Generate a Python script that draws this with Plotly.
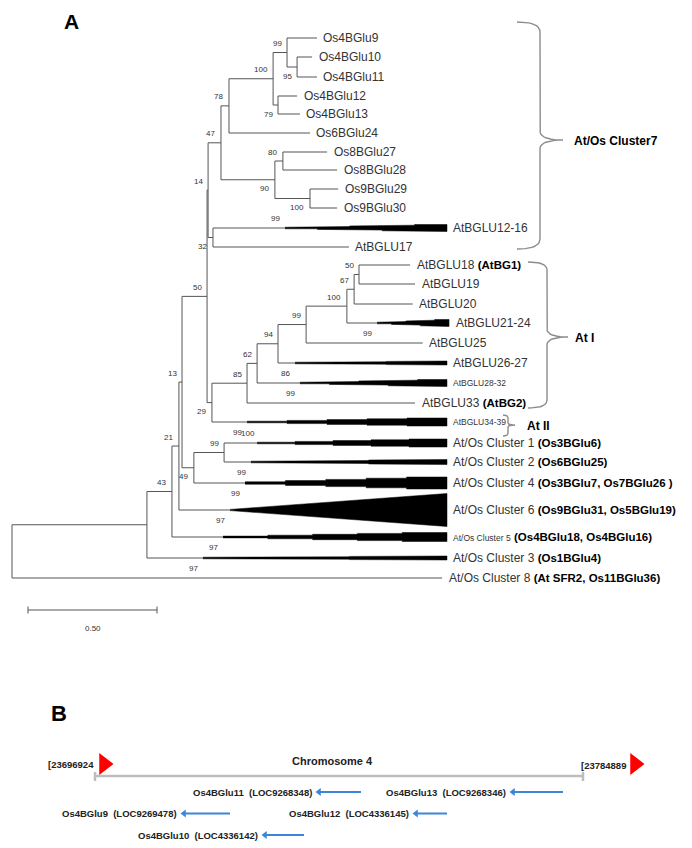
import plotly.graph_objects as go

# ======================= DATA =======================
# ---- Panel A: phylogenetic tree (depth = distance from root) ----
node_names = ["root", "nA", "n43", "n21", "n13", "n50", "n14", "n47", "n78",
              "n100", "n99", "n95", "n79", "n90", "n80", "n100b", "n32",
              "n29", "n85", "n62", "n94", "n99a", "n100a", "n67", "n50a",
              "n49", "n99c"]
node_parent = [None, "root", "nA", "n43", "n21", "n13", "n50", "n14", "n47",
               "n78", "n100", "n99", "n100", "n47", "n90", "n90", "n14",
               "n50", "n29", "n85", "n62", "n94", "n99a", "n100a", "n67",
               "n13", "n49"]
node_depth = [0.000, 0.523, 0.620, 0.647, 0.659, 0.756, 0.760, 0.810, 0.841,
              1.012, 1.066, 1.105, 1.031, 1.019, 1.050, 1.155, 0.779,
              0.775, 0.911, 0.950, 1.031, 1.140, 1.298, 1.326, 1.345,
              0.705, 0.822]
node_bootstrap = [None, None, 43, 21, 13, 50, 14, 47, 78,
                  100, 99, 95, 79, 90, 80, 100, 32,
                  29, 85, 62, 94, 99, 100, 67, 50,
                  49, 99]
node_boot_side = ["", "", "up", "up", "up", "up", "up", "up", "up",
                  "up", "up", "down", "down", "down", "up", "down", "down",
                  "down", "up", "up", "up", "up", "up", "up", "up",
                  "down", "up"]

leaf_names = ["Os4BGlu9", "Os4BGlu10", "Os4BGlu11", "Os4BGlu12", "Os4BGlu13",
              "Os6BGlu24", "Os8BGlu27", "Os8BGlu28", "Os9BGlu29", "Os9BGlu30",
              "AtBGLU12-16", "AtBGLU17", "AtBGLU18", "AtBGLU19", "AtBGLU20",
              "AtBGLU21-24", "AtBGLU25", "AtBGLU26-27", "AtBGLU28-32", "AtBGLU33",
              "AtBGLU34-39", "At/Os Cluster 1", "At/Os Cluster 2", "At/Os Cluster 4",
              "At/Os Cluster 6", "At/Os Cluster 5", "At/Os Cluster 3", "At/Os Cluster 8"]
leaf_parent = ["n99", "n95", "n95", "n79", "n79",
               "n78", "n80", "n80", "n100b", "n100b",
               "n32", "n32", "n50a", "n50a", "n67",
               "n100a", "n99a", "n94", "n62", "n85",
               "n29", "n99c", "n99c", "n49",
               "n21", "n43", "nA", "root"]
leaf_row = [38, 57, 77, 96, 114, 133, 152, 170, 189, 208,
            228, 247, 265, 284, 304, 323, 343, 363, 383, 403,
            422, 443, 462, 483, 510, 537, 558, 578]
leaf_end = [1.182, 1.163, 1.182, 1.105, 1.116, 1.155, 1.221, 1.260, 1.264, 1.260,
            1.058, 1.306, 1.543, 1.562, 1.553, 1.415, 1.592, 1.097, 1.116, 1.562,
            0.911, 0.950, 0.926, 0.903, 0.845, 0.818, 0.740, 1.667]
wedge_end = [None] * 10 + [1.686, None, None, None, None, 1.694, None, 1.686, 1.686, None,
                           1.686, 1.686, 1.686, 1.686, 1.686, 1.686, 1.686, None]
wedge_size = [0] * 10 + [7, 0, 0, 0, 0, 7, 0, 4, 7, 0,
                         8, 8, 5, 12, 33, 9, 4, 0]
wedge_bootstrap = [None] * 10 + [99, None, None, None, None, 99, None, 86, 99, None,
                                 99, 100, 99, 99, 97, 97, 97, None]
wedge_boot_side = [""] * 10 + ["up", "", "", "", "", "down", "", "down", "down", "",
                               "down", "up", "down", "down", "down", "down", "down", ""]
leaf_note = [""] * 12 + ["(AtBG1)", "", "", "", "", "", "", "(AtBG2)",
                         "", "(Os3BGlu6)", "(Os6BGlu25)", "(Os3BGlu7, Os7BGlu26 )",
                         "(Os9BGlu31, Os5BGlu19)", "(Os4BGlu18, Os4BGlu16)",
                         "(Os1BGlu4)", "(At SFR2, Os11BGlu36)"]
leaf_small = [False] * 18 + [True, False, True, False, False, False, False, True, False, False]

groups = ["At/Os Cluster7", "At I", "At II"]
scale_bar_length = 0.50

# ---- Panel B: chromosome 4 region ----
chrom_name = "Chromosome 4"
chrom_start = 23696924
chrom_end = 23784889
gene_names = ["Os4BGlu11", "Os4BGlu13", "Os4BGlu9", "Os4BGlu12", "Os4BGlu10"]
gene_loc = ["LOC9268348", "LOC9268346", "LOC9269478", "LOC4336145", "LOC4336142"]
gene_tail = [23744873, 23781286, 23721259, 23760376, 23734598]
gene_head = [23736942, 23771912, 23712607, 23754427, 23727208]
gene_track = [1, 1, 2, 2, 3]

# ======================= LAYOUT HELPERS =======================
SW, SH = 692, 848       # window size
OFF = 8                 # page body margin
W, H = SW - OFF, SH - OFF
PX = 1 / 258.0          # tree depth units per pixel
ROOT_PX = 12
def dx(px):
    return (px - ROOT_PX) * PX

BP_PER_PX = (chrom_end - chrom_start) / (583 - 95)
def bx(px):
    return chrom_start + (px - 95) * BP_PER_PX
def ty(px):
    return (px - 770.5) / 21.5

FONT = "Liberation Sans, Arial, sans-serif"
LINE = "#555555"
TXT = "#333333"

fig = go.Figure()
anns = []

# ---- tree geometry ----
depth = dict(zip(node_names, node_depth))
ypos = dict(zip(leaf_names, leaf_row))
parent = dict(zip(node_names, node_parent))
parent.update(dict(zip(leaf_names, leaf_parent)))
children = {n: [] for n in node_names}
for ch, p in parent.items():
    if p is not None:
        children[p].append(ch)

def get_y(n):
    if n in ypos:
        return ypos[n]
    ys = [get_y(c) for c in children[n]]
    ypos[n] = (min(ys) + max(ys)) / 2
    return ypos[n]
for n in node_names:
    get_y(n)

xs, ys = [], []
for n in node_names:
    cy = [ypos[c] for c in children[n]]
    xs += [depth[n], depth[n], None]
    ys += [min(cy), max(cy), None]
for n in node_names:
    p = parent[n]
    if p is None:
        continue
    xs += [depth[p], depth[n], None]
    ys += [ypos[n], ypos[n], None]
for i, n in enumerate(leaf_names):
    p = parent[n]
    xs += [depth[p], leaf_end[i], None]
    ys += [ypos[n], ypos[n], None]

fig.add_trace(go.Scatter(x=xs, y=ys, mode="lines",
                         line=dict(color=LINE, width=1), hoverinfo="skip"))

# collapsed clades (wedges)
for i, n in enumerate(leaf_names):
    if wedge_end[i] is None:
        continue
    x0, x1, yc, h = leaf_end[i], wedge_end[i], ypos[n], wedge_size[i]
    if h > 20:
        px_ = [x0, x1, x1, x0]
        py_ = [yc - 0.6, yc - h / 2, yc + h / 2, yc + 0.6]
    else:
        steps = 5
        top, bot = [], []
        for k in range(steps):
            xa = x0 + (x1 - x0) * k / steps
            xb = x0 + (x1 - x0) * (k + 1) / steps
            hh = max(0.8, h / 2 * (k + 1) / steps)
            top += [(xa, yc - hh), (xb, yc - hh)]
            bot += [(xa, yc + hh), (xb, yc + hh)]
        pts = top + bot[::-1]
        px_ = [p[0] for p in pts]
        py_ = [p[1] for p in pts]
    fig.add_trace(go.Scatter(x=px_, y=py_, mode="lines", fill="toself",
                             fillcolor="#000000", line=dict(color="#000000", width=0.5),
                             hoverinfo="skip"))

# leaf labels
for i, n in enumerate(leaf_names):
    xe = wedge_end[i] if wedge_end[i] is not None else leaf_end[i]
    if leaf_small[i]:
        base = f'<span style="font-size:8.5px">{n}</span>'
    else:
        base = n
    if leaf_note[i]:
        txt = base + f' <span style="color:#000000;font-size:11.5px"><b>{leaf_note[i]}</b></span>'
    else:
        txt = base
    anns.append(dict(x=xe, y=ypos[n], xref="x", yref="y", text=txt, showarrow=False,
                     xanchor="left", yanchor="middle", xshift=4.5,
                     font=dict(family=FONT, size=12, color=TXT)))

# node bootstrap labels
for i, n in enumerate(node_names):
    b = node_bootstrap[i]
    if b is None:
        continue
    anns.append(dict(x=depth[n], y=ypos[n], xref="x", yref="y", text=str(b),
                     showarrow=False, xanchor="right", yanchor="middle", xshift=-3.5,
                     yshift=9 if node_boot_side[i] == "up" else -9,
                     font=dict(family=FONT, size=8, color=TXT)))

# wedge bootstrap labels
for i, n in enumerate(leaf_names):
    b = wedge_bootstrap[i]
    if b is None:
        continue
    anns.append(dict(x=leaf_end[i], y=ypos[n], xref="x", yref="y", text=str(b),
                     showarrow=False, xanchor="center", yanchor="middle", xshift=-9.5,
                     yshift=10 if wedge_boot_side[i] == "up" else -10,
                     font=dict(family=FONT, size=8, color=TXT)))

# group braces
def qbez(p0, p1, p2, n=10):
    out = []
    for k in range(n + 1):
        t = k / n
        out.append(((1 - t) ** 2 * p0[0] + 2 * (1 - t) * t * p1[0] + t ** 2 * p2[0],
                    (1 - t) ** 2 * p0[1] + 2 * (1 - t) * t * p1[1] + t ** 2 * p2[1]))
    return out

def brace(xe, xs_, xt, top, bot, mid, r, rt):
    pts = qbez((xe, top), (xs_, top), (xs_, top + r))
    pts += qbez((xs_, mid - rt), (xs_, mid), (xt, mid))
    pts += qbez((xt, mid), (xs_, mid), (xs_, mid + rt))
    pts += qbez((xs_, bot - r), (xs_, bot), (xe, bot))
    return pts

brace_specs = [
    (517, 540, 563, ypos["Os4BGlu9"] - 16, ypos["AtBGLU17"] + 2, 140, 10, 9, 572),
    (528, 547, 568, ypos["AtBGLU18"] - 3, ypos["AtBGLU33"] + 5, 337, 8, 8, 573),
    (503, 508, 515, ypos["AtBGLU34-39"] - 7, ypos["AtBGLU34-39"] + 14, 425, 3, 2, 525),
]
for g, (xe, xsp, xt, top, bot, mid, r, rt, lx) in zip(groups, brace_specs):
    pts = brace(xe, xsp, xt, top, bot, mid, r, rt)
    fig.add_trace(go.Scatter(x=[dx(p[0]) for p in pts], y=[p[1] for p in pts],
                             mode="lines", line=dict(color="#8c8c8c", width=1.4),
                             hoverinfo="skip"))
    anns.append(dict(x=dx(lx), y=mid + 1, xref="x", yref="y", text=f"<b>{g}</b>",
                     showarrow=False, xanchor="left", yanchor="middle",
                     font=dict(family=FONT, size=12, color="#000000")))

# scale bar
sb0 = dx(28)
sb1 = sb0 + scale_bar_length
fig.add_trace(go.Scatter(x=[sb0, sb1, None, sb0, sb0, None, sb1, sb1],
                         y=[610, 610, None, 606.5, 613.5, None, 606.5, 613.5],
                         mode="lines", line=dict(color="#555555", width=1),
                         hoverinfo="skip"))
anns.append(dict(x=(sb0 + sb1) / 2, y=628, xref="x", yref="y",
                 text=f"{scale_bar_length:.2f}", showarrow=False,
                 font=dict(family=FONT, size=8, color=TXT)))

# ---- Panel B ----
yc = ty(776)
tk0, tk1 = ty(772), ty(781)
fig.add_trace(go.Scatter(x=[chrom_start, chrom_end, None, chrom_start, chrom_start, None,
                            chrom_end, chrom_end],
                         y=[yc, yc, None, tk0, tk1, None, tk0, tk1],
                         xaxis="x2", yaxis="y2", mode="lines",
                         line=dict(color="#bdbdbd", width=2.5), hoverinfo="skip"))
fig.add_trace(go.Scatter(x=[chrom_start + 9 * BP_PER_PX, chrom_end + 52 * BP_PER_PX],
                         y=[ty(764), ty(764)], xaxis="x2", yaxis="y2", mode="markers",
                         marker=dict(symbol="triangle-right", size=19, color="#ff0000",
                                     line=dict(width=0)),
                         hoverinfo="skip"))
anns.append(dict(x=chrom_start, y=ty(764), xref="x2", yref="y2",
                 text=f"<b>[{chrom_start}</b>", showarrow=False, xanchor="right",
                 yanchor="middle", xshift=1,
                 font=dict(family=FONT, size=9.5, color="#222222")))
anns.append(dict(x=chrom_end, y=ty(765), xref="x2", yref="y2",
                 text=f"<b>[{chrom_end}</b>", showarrow=False, xanchor="left",
                 yanchor="middle", xshift=-4,
                 font=dict(family=FONT, size=9.5, color="#222222")))
anns.append(dict(x=(chrom_start + chrom_end) / 2, y=ty(761), xref="x2", yref="y2",
                 text=f"<b>{chrom_name}</b>", showarrow=False, xanchor="center",
                 yanchor="middle", xshift=-7,
                 font=dict(family=FONT, size=11, color="#222222")))

gx, gy = [], []
for i in range(len(gene_names)):
    gx += [gene_tail[i], gene_head[i] + 3 * BP_PER_PX, None]
    gy += [gene_track[i], gene_track[i], None]
    anns.append(dict(x=gene_head[i], y=gene_track[i], xref="x2", yref="y2",
                     text=f"<b>{gene_names[i]}  ({gene_loc[i]})</b>", showarrow=False,
                     xanchor="right", yanchor="middle", xshift=-3,
                     font=dict(family=FONT, size=9.5, color="#222222")))
fig.add_trace(go.Scatter(x=gx, y=gy, xaxis="x2", yaxis="y2", mode="lines",
                         line=dict(color="#3a86d8", width=2), hoverinfo="skip"))
fig.add_trace(go.Scatter(x=[h + 2 * BP_PER_PX for h in gene_head], y=gene_track,
                         xaxis="x2", yaxis="y2", mode="markers",
                         marker=dict(symbol="triangle-left", size=7, color="#3a86d8",
                                     line=dict(width=0)),
                         hoverinfo="skip"))

# panel letters (screen pixel -> paper)
def pxp(px):
    return (px - OFF) / W
def pyp(py):
    return 1 - (py - OFF) / H
anns.append(dict(x=pxp(71), y=1.0, xref="paper", yref="paper", text="<b>A</b>",
                 showarrow=False, xanchor="center", yanchor="top",
                 font=dict(family=FONT, size=21, color="#000000")))
anns.append(dict(x=pxp(59), y=pyp(713), xref="paper", yref="paper", text="<b>B</b>",
                 showarrow=False, xanchor="center", yanchor="middle",
                 font=dict(family=FONT, size=22, color="#000000")))

hidden = dict(visible=False, showgrid=False, zeroline=False, fixedrange=True)
fig.update_layout(
    width=W, height=H, autosize=False,
    margin=dict(l=0, r=0, t=0, b=0, pad=0),
    paper_bgcolor="white", plot_bgcolor="white",
    showlegend=False, hovermode=False,
    xaxis=dict(range=[dx(OFF), dx(SW)], domain=[0, 1], **hidden),
    yaxis=dict(range=[SH, OFF], domain=[0, 1], **hidden),
    xaxis2=dict(range=[bx(OFF), bx(SW)], overlaying="x", **hidden),
    yaxis2=dict(range=[ty(SH), ty(OFF)], overlaying="y", **hidden),
    annotations=anns,
)
fig.write_html("out.html")
